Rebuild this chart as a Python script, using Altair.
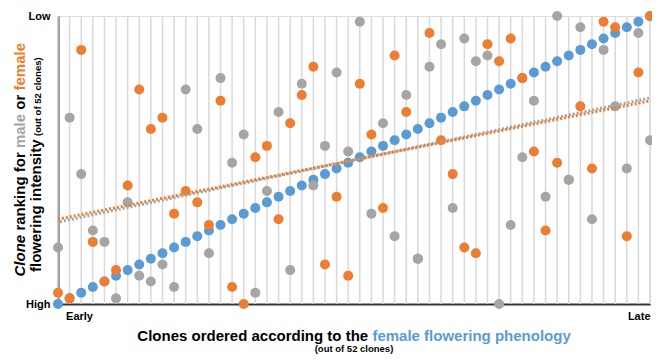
import altair as alt
import pandas as pd

# Clones ordered by female flowering phenology (x) and their rankings (y)
clones = [1, 2, 3, 4, 5, 6, 7, 8, 9, 10, 11, 12, 13, 14, 15, 16, 17, 18, 19, 20,
          21, 22, 23, 24, 25, 26, 27, 28, 29, 30, 31, 32, 33, 34, 35, 36, 37, 38, 39, 40,
          41, 42, 43, 44, 45, 46, 47, 48, 49, 50, 51, 52]
phenology_rank = [1, 2, 3, 4, 5, 6, 7, 8, 9, 10, 11, 12, 13, 14, 15, 16, 17, 18, 19, 20,
                  21, 22, 23, 24, 25, 26, 27, 28, 29, 30, 31, 32, 33, 34, 35, 36, 37, 38, 39, 40,
                  41, 42, 43, 44, 45, 46, 47, 48, 49, 50, 51, 52]
female_intensity = [3, 2, 46, 12, 5, 7, 22, 39, 32, 34, 17, 21, 19, 15, 37, 4, 1, 27, 29, 16,
                    33, 38, 43, 8, 20, 6, 40, 31, 18, 45, 35, 9, 49, 30, 24, 11, 10, 47, 44, 48,
                    41, 28, 14, 26, 23, 36, 25, 51, 50, 13, 42, 52]
male_intensity = [11, 34, 24, 14, 12, 2, 19, 6, 5, 8, 4, 39, 32, 10, 41, 26, 31, 3, 21, 35,
                  7, 40, 22, 29, 42, 28, 51, 17, 33, 13, 38, 9, 43, 47, 18, 48, 44, 45, 1, 15,
                  27, 37, 20, 52, 23, 50, 16, 46, 36, 25, 49, 30]

BLUE = "#5B9BD5"
ORANGE = "#ED7D31"
GRAY = "#A5A5A5"
FONT = "Liberation Sans"

rows = []
for c, p, f, m in zip(clones, phenology_rank, female_intensity, male_intensity):
    rows.append({"clone": c, "rank": p, "series": "phenology"})
    rows.append({"clone": c, "rank": f, "series": "female"})
    rows.append({"clone": c, "rank": m, "series": "male"})
df = pd.DataFrame(rows)
grid_df = pd.DataFrame({"clone": clones})
one = pd.DataFrame({"k": [0]})

x_enc = alt.X(
    "clone:Q",
    scale=alt.Scale(domain=[1, 52], nice=False, zero=False),
    axis=alt.Axis(values=[1.65, 52], labelExpr="datum.value < 26 ? 'Early' : 'Late'",
                  labelFlush=10, ticks=False, grid=False, title=None,
                  labelFontSize=11, labelFontWeight="bold", labelColor="#000000",
                  labelFont=FONT, labelPadding=6, domainColor="#333333", domainWidth=2),
)
y_enc = alt.Y(
    "rank:Q",
    scale=alt.Scale(domain=[1, 52], nice=False, zero=False),
    axis=alt.Axis(values=[1, 52], labelExpr="datum.value < 26 ? 'High' : 'Low'",
                  labelFlush=False, ticks=False, grid=False, title=None,
                  labelFontSize=11, labelFontWeight="bold", labelColor="#000000",
                  labelFont=FONT, labelPadding=8, domainColor="#333333", domainWidth=2),
)

grid = alt.Chart(grid_df).mark_rule(color="#D9D9D9", strokeWidth=1.5).encode(x=x_enc)

def pts(series, color):
    return alt.Chart(df).transform_filter(alt.datum.series == series).mark_circle(
        size=100, color=color, opacity=1).encode(x=x_enc, y=y_enc)

def trend(series, color, offset):
    return alt.Chart(df).transform_filter(alt.datum.series == series).transform_regression(
        "clone", "rank").mark_line(color=color, strokeWidth=3, strokeDash=[2, 2],
                                   strokeDashOffset=offset).encode(x=x_enc, y=y_enc)

def txt(s, x, y, size=15, color="#000000", angle=0, align="left", italic=False):
    kw = dict(text=s, fontSize=size, fontWeight="bold", font=FONT, color=color,
              align=align, baseline="alphabetic")
    if angle:
        kw["angle"] = angle
    if italic:
        kw["fontStyle"] = "italic"
    return alt.Chart(one).mark_text(**kw).encode(x=alt.value(x), y=alt.value(y))

texts = [
    # y-axis title, line 1
    txt("Clone", -33, 260.5, angle=270, italic=True),
    txt("ranking for", -33, 214.6, angle=270),
    txt("male", -33, 132.1, angle=270, color=GRAY),
    txt("or", -33, 93.7, angle=270),
    txt("female", -33, 74.5, angle=270, color=ORANGE),
    # y-axis title, line 2
    txt("flowering intensity", -17, 256, angle=270),
    txt("(out of 52 clones)", -17, 120, size=9.5, angle=270),
    # x-axis title
    txt("Clones ordered according to the", 79.3, 325),
    txt("female flowering phenology", 314.4, 325, color=BLUE),
    txt("(out of 52 clones)", 296, 335.5, size=9.5, align="center"),
]

chart = alt.layer(
    grid,
    pts("phenology", BLUE),
    pts("female", ORANGE),
    pts("male", GRAY),
    trend("male", GRAY, 2),
    trend("female", ORANGE, 0),
    *texts,
).properties(
    width=592, height=288,
    autosize=alt.AutoSizeParams(type="none"),
    padding={"left": 50, "top": 8, "right": 2, "bottom": 50},
).configure_view(stroke="#333333", strokeWidth=2).configure(font=FONT)

chart.save("out.html", embed_options={"renderer": "svg", "actions": False})
